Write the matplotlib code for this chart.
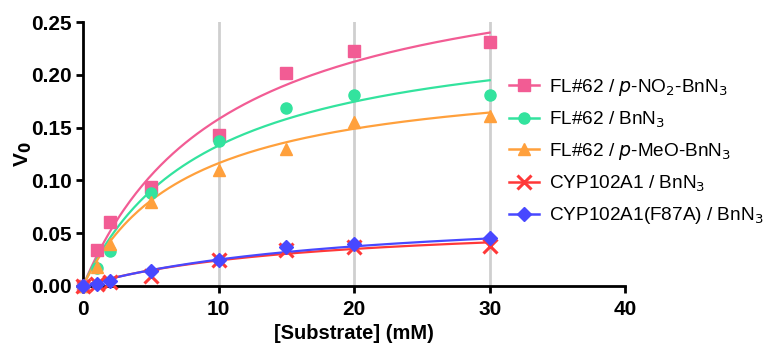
import numpy as np
import matplotlib
matplotlib.use("Agg")
import matplotlib.pyplot as plt

plt.rcParams['font.family'] = ['Liberation Sans', 'DejaVu Sans']

substrate = [0, 1, 2, 5, 10, 15, 20, 30]
v_nitro = [0.0, 0.034, 0.061, 0.094, 0.143, 0.202, 0.223, 0.231]
v_bn = [0.0, 0.017, 0.033, 0.088, 0.137, 0.169, 0.181, 0.181]
v_meo = [0.0, 0.018, 0.040, 0.080, 0.110, 0.130, 0.155, 0.161]
v_cyp = [0.0, 0.002, 0.004, 0.009, 0.025, 0.034, 0.037, 0.038]
v_f87a = [0.0, 0.002, 0.005, 0.014, 0.025, 0.037, 0.040, 0.045]

# Michaelis-Menten fit parameters (Vmax, Km)
fit_nitro = (0.324, 10.5)
fit_bn = (0.254, 9.1)
fit_meo = (0.207, 7.8)
fit_cyp = (0.064, 16.5)
fit_f87a = (0.075, 20.0)

labels = [r'FL#62 / $\it{p}$-NO$_2$-BnN$_3$', r'FL#62 / BnN$_3$',
          r'FL#62 / $\it{p}$-MeO-BnN$_3$', r'CYP102A1 / BnN$_3$',
          r'CYP102A1(F87A) / BnN$_3$']
colors = ['#F25C94', '#33E39E', '#FFA03C', '#FF3838', '#4848FF']
markers = ['s', 'o', '^', 'x', 'D']
msizes = [8, 8, 8, 10, 7]

fig = plt.figure(figsize=(7.69, 3.5), dpi=100)
ax = fig.add_axes([0.108, 0.183, 0.705, 0.754])

for xv in [10, 20, 30]:
    ax.axvline(xv, color='#cfcfcf', lw=2, zorder=0)

series = [v_nitro, v_bn, v_meo, v_cyp, v_f87a]
fits = [fit_nitro, fit_bn, fit_meo, fit_cyp, fit_f87a]
xs = np.linspace(0, 30, 200)
handles = []
for ys, (vm, km), lab, c, m, ms in zip(series, fits, labels, colors, markers, msizes):
    ax.plot(xs, vm * xs / (km + xs), color=c, lw=1.6, zorder=3)
    mew = 2.2 if m == 'x' else 1
    ax.plot(substrate, ys, linestyle='none', marker=m, color=c, ms=ms,
            mew=mew, zorder=4, clip_on=False)
    h, = ax.plot([], [], color=c, lw=1.8, marker=m, ms=ms, mew=mew, label=lab)
    handles.append(h)

ax.set_xlim(0, 40)
ax.set_ylim(0, 0.25)
ax.set_xticks([0, 10, 20, 30, 40])
ax.set_yticks([0, 0.05, 0.10, 0.15, 0.20, 0.25])
ax.set_yticklabels(['0.00', '0.05', '0.10', '0.15', '0.20', '0.25'])
for s in ['top', 'right']:
    ax.spines[s].set_visible(False)
for s in ['left', 'bottom']:
    ax.spines[s].set_linewidth(2)
ax.tick_params(width=2, length=5, labelsize=15, pad=3)
ax.tick_params(axis='x', pad=5)
for t in ax.get_xticklabels() + ax.get_yticklabels():
    t.set_fontweight('bold')
ax.set_xlabel('[Substrate] (mM)', fontsize=14.5, fontweight='bold', labelpad=4)
ax.set_ylabel(r'V$_\mathbf{0}$', fontsize=15, fontweight='bold', labelpad=-2)

fig.legend(handles=handles, loc='upper left', bbox_to_anchor=(0.662, 0.78),
           frameon=False, fontsize=13.7, handlelength=1.55, labelspacing=0.6,
           handletextpad=0.55, borderpad=0, borderaxespad=0)

fig.savefig('out.png', dpi=100)
